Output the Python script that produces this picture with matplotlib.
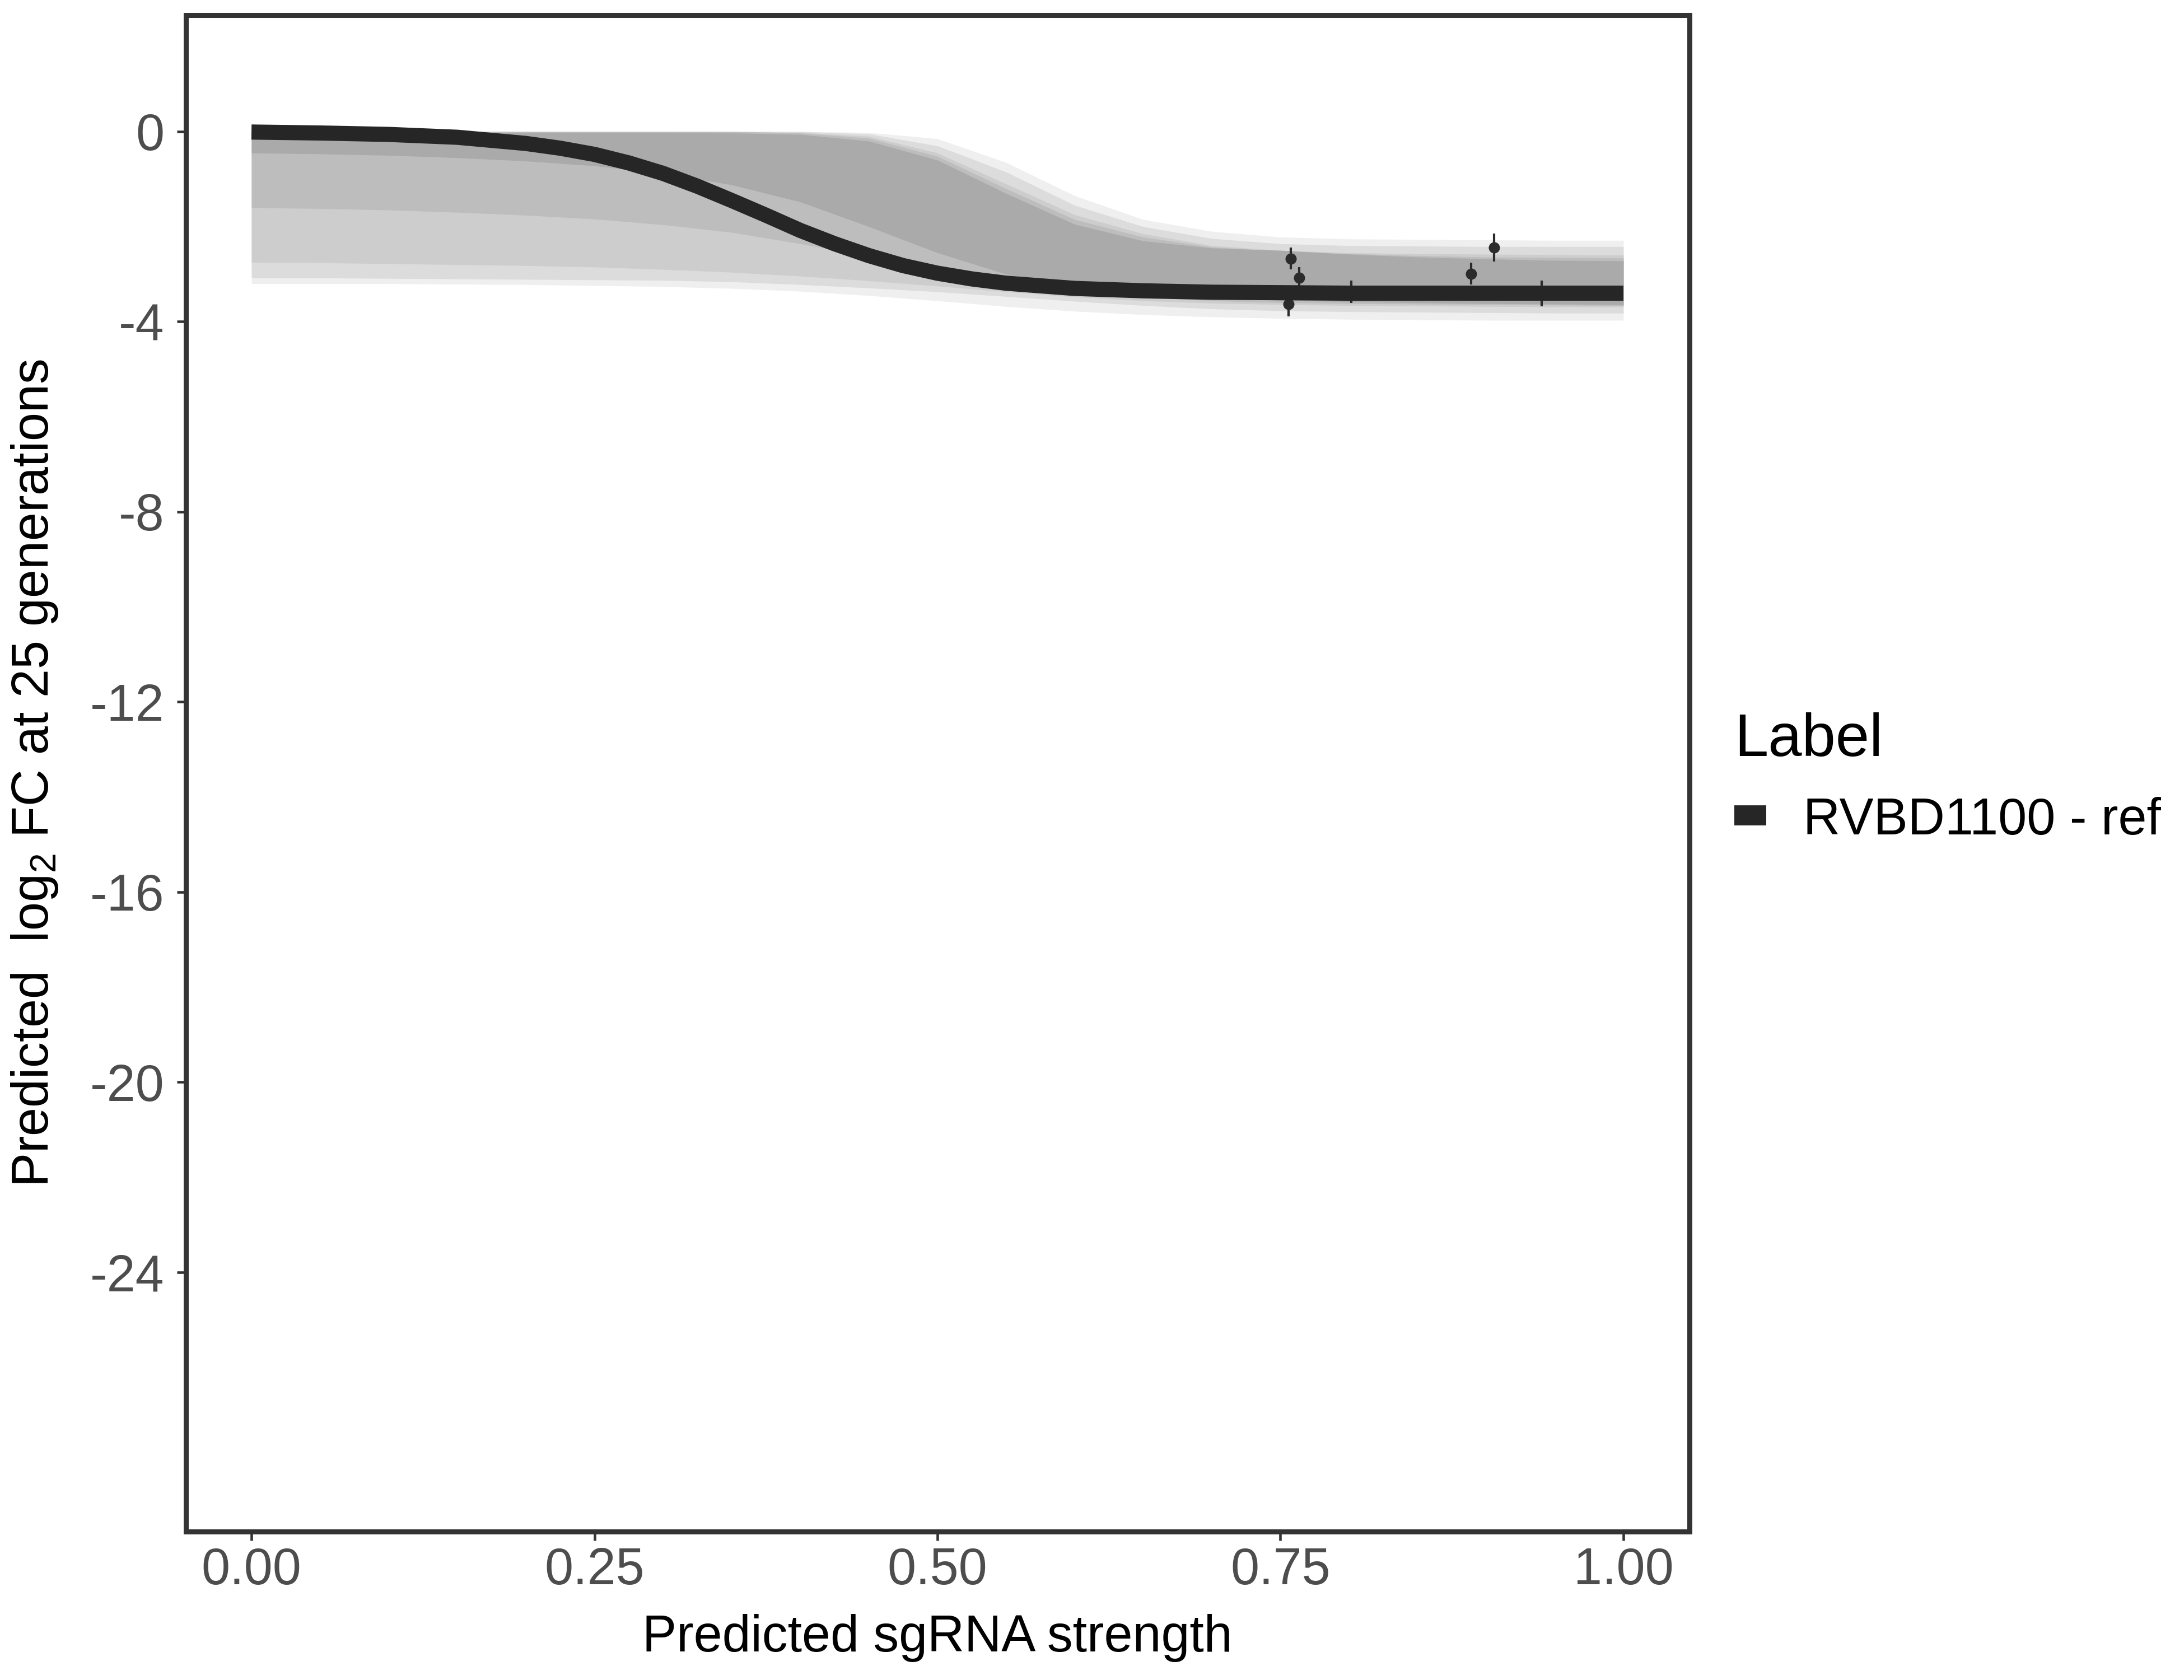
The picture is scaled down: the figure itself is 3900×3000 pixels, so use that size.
import matplotlib
matplotlib.use("Agg")
import matplotlib.pyplot as plt
from matplotlib.lines import Line2D

plt.rcParams['font.family'] = ['Liberation Sans', 'DejaVu Sans']
plt.rcParams['mathtext.fontset'] = 'custom'
plt.rcParams['mathtext.rm'] = 'Liberation Sans'
plt.rcParams['mathtext.it'] = 'Liberation Sans:italic'

# ---------------- data ----------------
# reference fitted curve ("RVBD1100 - ref")
ref_x = [0.00, 0.05, 0.10, 0.15, 0.20, 0.225, 0.25, 0.275, 0.30, 0.325, 0.35, 0.375, 0.40,
         0.425, 0.45, 0.475, 0.50, 0.525, 0.55, 0.60, 0.65, 0.70, 0.75, 0.80,
         0.85, 0.90, 0.95, 1.00]
ref_y = [-0.01, -0.03, -0.06, -0.12, -0.25, -0.35, -0.48, -0.66, -0.88, -1.15, -1.45, -1.76, -2.08,
         -2.36, -2.61, -2.82, -2.98, -3.10, -3.19, -3.30, -3.35, -3.38, -3.39, -3.40,
         -3.40, -3.40, -3.40, -3.40]

# envelope of the grey posterior curves, at shared x positions
band_x = [0.00, 0.05, 0.10, 0.15, 0.20, 0.25, 0.30, 0.35, 0.40, 0.45, 0.50,
          0.55, 0.60, 0.65, 0.70, 0.75, 0.80, 0.85, 0.90, 0.95, 1.00]
outer_hi = [0.00, 0.00, 0.00, 0.00, 0.00, 0.00, 0.00, 0.00, 0.00, -0.02, -0.15,
            -0.65, -1.35, -1.85, -2.10, -2.22, -2.26, -2.27, -2.28, -2.29, -2.29]
outer_lo = [-3.20, -3.20, -3.20, -3.21, -3.22, -3.24, -3.26, -3.30, -3.36, -3.45, -3.56,
            -3.68, -3.78, -3.85, -3.90, -3.93, -3.95, -3.96, -3.97, -3.97, -3.97]
mid_hi = [0.00, 0.00, 0.00, 0.00, 0.00, 0.00, 0.00, 0.00, 0.00, -0.05, -0.30,
          -0.85, -1.55, -2.00, -2.25, -2.36, -2.40, -2.41, -2.42, -2.42, -2.42]
mid_lo = [-3.08, -3.08, -3.09, -3.10, -3.11, -3.12, -3.13, -3.16, -3.22, -3.29, -3.37,
          -3.47, -3.57, -3.66, -3.73, -3.77, -3.79, -3.80, -3.81, -3.82, -3.82]
inner_hi = [0.00, 0.00, 0.00, 0.00, 0.00, 0.00, 0.00, 0.00, -0.02, -0.10, -0.45,
            -1.10, -1.75, -2.15, -2.40, -2.50, -2.55, -2.57, -2.58, -2.59, -2.60]
inner_lo = [-2.75, -2.76, -2.78, -2.80, -2.82, -2.85, -2.90, -2.96, -3.04, -3.14, -3.25,
            -3.37, -3.48, -3.56, -3.61, -3.64, -3.66, -3.67, -3.68, -3.69, -3.69]
upper_hi = [0.00, 0.00, 0.00, 0.00, 0.00, 0.00, 0.00, 0.00, -0.03, -0.14, -0.52,
            -1.20, -1.85, -2.22, -2.43, -2.52, -2.57, -2.61, -2.64, -2.65, -2.66]
upper_lo = [-1.60, -1.62, -1.65, -1.70, -1.76, -1.84, -1.96, -2.12, -2.36, -2.62, -2.88,
            -3.15, -3.35, -3.48, -3.56, -3.60, -3.62, -3.63, -3.64, -3.65, -3.66]
core_hi = [-0.02, -0.02, -0.02, -0.02, -0.02, -0.02, -0.02, -0.03, -0.06, -0.20, -0.60,
           -1.30, -1.95, -2.30, -2.45, -2.50, -2.58, -2.64, -2.68, -2.71, -2.72]
core_lo = [-0.45, -0.47, -0.50, -0.55, -0.62, -0.72, -0.88, -1.12, -1.48, -2.00, -2.55,
           -3.00, -3.25, -3.40, -3.49, -3.55, -3.58, -3.60, -3.62, -3.63, -3.64]

# observed guides (mean and error)
obs_x = [0.7575, 0.7636, 0.7560, 0.8015, 0.8890, 0.9057, 0.9404]
obs_y = [-2.67, -3.07, -3.63, -3.37, -2.99, -2.445, -3.41]
obs_err = [0.23, 0.22, 0.26, 0.24, 0.23, 0.295, 0.27]

x_ticks = [0.00, 0.25, 0.50, 0.75, 1.00]
x_labels = ['0.00', '0.25', '0.50', '0.75', '1.00']
y_ticks = [0, -4, -8, -12, -16, -20, -24]
y_labels = ['0', '-4', '-8', '-12', '-16', '-20', '-24']

legend_title = 'Label'
series_name = 'RVBD1100 - ref'

# ---------------- figure ----------------
fig = plt.figure(figsize=(13, 10), dpi=300)
L, R, B, T = 331.5 / 3900, 3016.5 / 3900, 1 - 2734.5 / 3000, 1 - 27 / 3000
ax = fig.add_axes([L, B, R - L, T - B])

ax.fill_between(band_x, outer_lo, outer_hi, color='#efefef', lw=0, zorder=1)
ax.fill_between(band_x, mid_lo, mid_hi, color='#dcdcdc', lw=0, zorder=1.1)
ax.fill_between(band_x, inner_lo, inner_hi, color='#cdcdcd', lw=0, zorder=1.2)
ax.fill_between(band_x, upper_lo, upper_hi, color='#bdbdbd', lw=0, zorder=1.25)
ax.fill_between(band_x, core_lo, core_hi, color='#aaaaaa', lw=0, zorder=1.3)

ax.errorbar(obs_x, obs_y, yerr=obs_err, fmt='o', color='#2b2b2b', ms=3.8,
            elinewidth=1.0, capsize=0, zorder=2)

ax.plot(ref_x, ref_y, color='#262626', lw=6.5, solid_capstyle='butt', zorder=3)

ax.set_xlim(-0.048, 1.048)
ax.set_ylim(-29.45, 2.45)
ax.set_xticks(x_ticks)
ax.set_xticklabels(x_labels)
ax.set_yticks(y_ticks)
ax.set_yticklabels(y_labels)

for s in ax.spines.values():
    s.set_color('#333333')
    s.set_linewidth(2.16)
ax.tick_params(axis='both', direction='out', length=3.8, width=1.1, color='#333333',
               labelsize=22, labelcolor='#4d4d4d')
ax.tick_params(axis='y', pad=5.4)
ax.tick_params(axis='x', pad=2.8)

ax.set_xlabel('Predicted sgRNA strength', fontsize=22, color='black', va='center')
ax.xaxis.set_label_coords(0.5, -(2925 - 2734.5) / (2734.5 - 27))
ax.set_ylabel('Predicted  log$_2$ FC at 25 generations', fontsize=22, color='black', va='center')
ax.yaxis.set_label_coords((62 - 331.5) / (3016.5 - 331.5), 0.5)

# legend
fig.text(3096.7 / 3900, 1 - 1350 / 3000, legend_title, fontsize=26, va='baseline', ha='left')
fig.add_artist(Line2D([3096.7 / 3900, 3154 / 3900], [1 - 1456 / 3000] * 2, lw=8.6,
                      color='#262626', solid_capstyle='butt', transform=fig.transFigure))
fig.text(3220 / 3900, 1 - 1490 / 3000, series_name, fontsize=22, va='baseline', ha='left')

fig.savefig('out.png', dpi=300, facecolor='white')
